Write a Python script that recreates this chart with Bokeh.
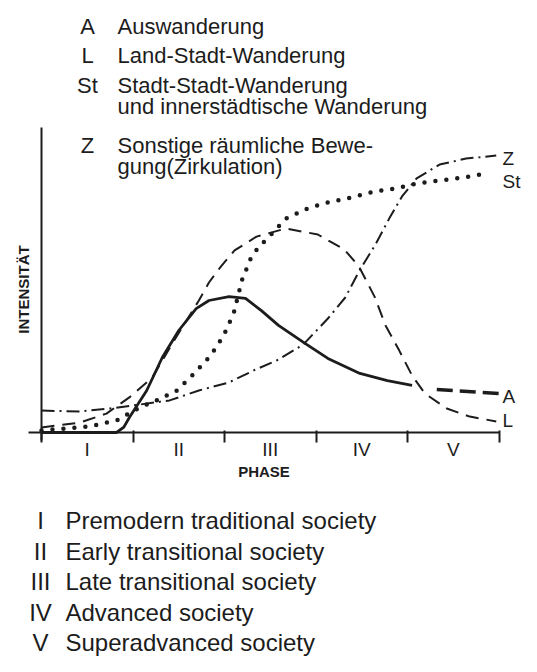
import math
from bokeh.plotting import figure
from bokeh.models import Range1d, LinearAxis, FixedTicker, Label
from bokeh.embed import file_html
from bokeh.resources import INLINE

# ---------------- data (phase units on x, intensity on y) ----------------
phases = ["I", "II", "III", "IV", "V"]
phase_centres = [0.5, 1.5, 2.5, 3.5, 4.5]
phase_bounds = [0, 1, 2, 3, 4, 5]
phase_names = ["Premodern traditional society", "Early transitional society",
               "Late transitional society", "Advanced society",
               "Superadvanced society"]

# A  Auswanderung (solid, then heavy dashed projection)
a_x = [0.00, 0.82, 0.90, 0.96, 1.15, 1.32, 1.50, 1.69, 1.83, 2.05, 2.23, 2.40,
       2.59, 2.88, 3.13, 3.48, 3.78, 4.05]
a_y = [0.0, 0.0, 1.8, 5.0, 14.0, 25.0, 34.0, 41.3, 44.0, 45.3, 44.7, 40.7,
       35.7, 29.7, 24.7, 19.7, 17.3, 15.7]
a_proj_x = [4.32, 5.00]
a_proj_y = [14.3, 13.0]

# L  Land-Stadt-Wanderung (long dashes)
l_x = [0.00, 0.42, 0.71, 0.96, 1.21, 1.45, 1.72, 1.83, 1.96, 2.11, 2.35, 2.67,
       3.02, 3.31, 3.47, 3.64, 3.76, 3.91, 4.05, 4.19, 4.43, 4.68, 4.97]
l_y = [1.7, 3.3, 6.3, 11.7, 18.3, 30.7, 44.0, 50.0, 55.3, 60.7, 65.3, 68.0,
       66.0, 61.0, 55.3, 45.3, 35.7, 27.3, 19.0, 13.0, 8.0, 5.3, 3.7]

# St  Stadt-Stadt-Wanderung (dotted)
st_x = [0.00, 0.53, 0.67, 0.82, 1.07, 1.26, 1.48, 1.67, 1.85, 1.99, 2.10, 2.19,
        2.29, 2.37, 2.48, 2.67, 2.91, 3.13, 3.38, 3.64, 3.86, 4.10, 4.35, 4.61,
        4.86]
st_y = [0.7, 2.0, 3.0, 4.0, 8.3, 10.7, 14.0, 19.7, 25.7, 32.3, 39.7, 50.7,
        58.3, 61.7, 65.0, 71.3, 74.7, 76.7, 78.3, 80.3, 81.3, 83.0, 84.0, 85.0,
        86.3]

# Z  Sonstige raeumliche Bewegung (dash-dot)
z_x = [0.00, 0.42, 0.75, 1.07, 1.40, 1.72, 2.05, 2.32, 2.59, 2.86, 3.13, 3.32,
       3.47, 3.65, 3.80, 3.94, 4.10, 4.35, 4.64, 4.97]
z_y = [7.3, 7.0, 8.0, 9.3, 10.7, 14.0, 16.7, 20.7, 24.3, 29.3, 38.0, 45.0,
       53.7, 62.7, 71.3, 78.7, 84.7, 89.3, 91.3, 92.3]

legend_keys = ["A", "L", "St", "", "Z", ""]
legend_texts = ["Auswanderung", "Land-Stadt-Wanderung", "Stadt-Stadt-Wanderung",
                "und innerstädtische Wanderung", "Sonstige räumliche Bewe-",
                "gung(Zirkulation)"]
end_labels = ["Z", "St", "A", "L"]

# ---------------- styling / layout ----------------
INK = "#1c1c1c"
FONT = "Liberation Sans"
W, H = 521, 656
X0, UNIT = 41.0, 91.5           # canvas px of phase 0, px per phase
BASE_FROM_BOTTOM, YPX = 224.0, 3.0

p = figure(width=W, height=H,
           x_range=Range1d(-X0 / UNIT, (W - X0) / UNIT),
           y_range=Range1d(-BASE_FROM_BOTTOM / YPX, (H - BASE_FROM_BOTTOM) / YPX),
           output_backend="svg", toolbar_location=None,
           x_axis_location=None, y_axis_location=None,
           min_border=0, outline_line_color=None,
           background_fill_color="white", border_fill_color="white")
p.xgrid.visible = False
p.ygrid.visible = False

xaxis = LinearAxis(
    fixed_location=0, bounds=(-0.14, 5.0),
    ticker=FixedTicker(ticks=phase_centres, minor_ticks=phase_bounds),
    major_label_overrides={c: n for c, n in zip(phase_centres, phases)},
    axis_line_width=2, axis_line_color=INK,
    major_tick_line_color=None, major_tick_in=0, major_tick_out=2,
    minor_tick_line_color=INK, minor_tick_line_width=2,
    minor_tick_in=2, minor_tick_out=10,
    major_label_standoff=-4, major_label_text_font=FONT,
    major_label_text_font_size="19px", major_label_text_color=INK,
    axis_label="PHASE", axis_label_text_font=FONT,
    axis_label_text_font_style="bold", axis_label_text_font_size="15px",
    axis_label_text_color=INK, axis_label_standoff=0)
p.add_layout(xaxis, "below")

yaxis = LinearAxis(
    fixed_location=0, bounds=(-2.7, 101.7), ticker=FixedTicker(ticks=[]),
    axis_line_width=2, axis_line_color=INK,
    major_tick_line_color=None, minor_tick_line_color=None,
    major_label_text_font_size="0px")
p.add_layout(yaxis, "left")

# curves
p.line(a_x, a_y, line_width=2.8, line_color=INK)
p.line(a_proj_x, a_proj_y, line_width=3.5, line_color=INK, line_dash="16 7")
p.line(l_x, l_y, line_width=2, line_color=INK, line_dash="13 8")
p.line(z_x, z_y, line_width=2, line_color=INK, line_dash="13 5 2 5")
p.line(st_x, st_y, line_width=4.5, line_color=INK, line_dash="0 11",
       line_cap="round")

def lab(x, y_mid, text, size, align="left", style="normal", angle=0.0):
    # y_mid: vertical centre of the text, in pixels from the top
    p.add_layout(Label(x=x, y=H - y_mid, x_units="screen", y_units="screen",
                       text=text, text_font=FONT, text_font_size=size,
                       text_color=INK, text_font_style=style, text_align=align,
                       text_baseline="middle", angle=angle))

# top legend
top_mid = [25.5, 54.5, 84.5, 105.5, 144.5, 165.5]
for k, t, ym in zip(legend_keys, legend_texts, top_mid):
    if k:
        lab(87, ym, k, "22px", align="center")
    lab(117, ym, t, "22px")

# curve end labels
end_mid = [158, 181, 396, 420]
for t, ym in zip(end_labels, end_mid):
    lab(502, ym, t, "19px")

# y axis title
lab(22.5, 289, "INTENSITÄT", "15px", align="center", style="bold",
    angle=math.pi / 2)

# phase legend
bot_mid = [520, 551, 581, 612, 642]
for n, t, ym in zip(phases, phase_names, bot_mid):
    lab(40, ym, n, "24px", align="center")
    lab(65, ym, t, "24px")

open("out.html", "w").write(file_html(p, INLINE))
